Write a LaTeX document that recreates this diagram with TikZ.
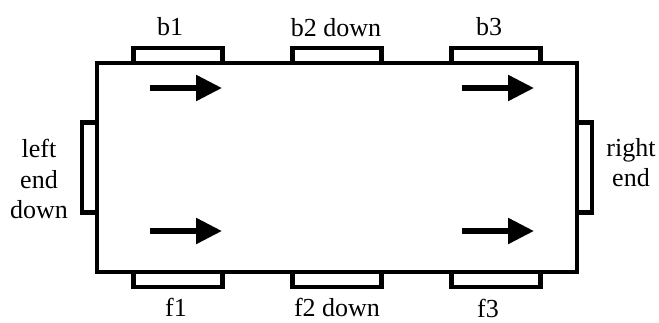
\documentclass[tikz,border=0pt]{standalone}
\usepackage{fontspec}
\setmainfont{Liberation Serif}
\usetikzlibrary{arrows.meta}
\tikzstyle{board}=[draw,line width=4.5pt,minimum width=480pt,minimum height=209pt,inner sep=0pt]
\tikzstyle{htab}=[draw,fill=white,line width=4.5pt,minimum width=89pt,minimum height=15pt,inner sep=0pt]
\tikzstyle{vtab}=[draw,fill=white,line width=4.5pt,minimum width=15pt,minimum height=90pt,inner sep=0pt]
\tikzstyle{tabname}=[font=\fontsize{26}{30.5}\selectfont,inner sep=0pt,align=center]
\tikzstyle{push}=[line width=5.5pt,-{Triangle[length=26pt,width=25pt]}]

\begin{document}
\begin{tikzpicture}[x=1pt,y=-1pt]
			\useasboundingbox (0,0) rectangle (659,322);

			% First we draw the board and the tabs round it
			\node[board] (board) at (337,167.5) {};
			\foreach \pos/\name in {{(178,55.5)/b1}, {(337,55.5)/b2}, {(496,55.5)/b3},
									{(178,279.5)/f1}, {(337,279.5)/f2}, {(496,279.5)/f3}}
			\node[htab] (\name) at \pos {};
			\foreach \pos/\name in {{(89.5,167.5)/left}, {(584.5,167.5)/right}}
			\node[vtab] (\name) at \pos {};

			% Names of the tabs
			\foreach \pos/\name/\text in {{(170,35.5)/b1/b1}, {(336,36)/b2/b2 down}, {(489,35.5)/b3/b3},
										{(176,316)/f1/f1}, {(337,316)/f2/f2 down}, {(488,317)/f3/f3}}
			\node[tabname, anchor=base] (\name t) at \pos {\text};

			\foreach \pos/\name/\text in {{(39,139)/left/left\\end\\down}, {(631,138)/right/right\\end}}
			\node[tabname, anchor=north] (\name t) at \pos {\text};

			% Arrows showing the direction
			\foreach \x/\y/\name in {150/88/bl, 462/88/br, 150/231/fl, 462/231/fr} {
				\coordinate (\name s) at (\x,\y);
				\coordinate (\name e) at (\x+72,\y);
				\draw[push] (\name s) -- (\name e);
			}

		\end{tikzpicture}
\end{document}
